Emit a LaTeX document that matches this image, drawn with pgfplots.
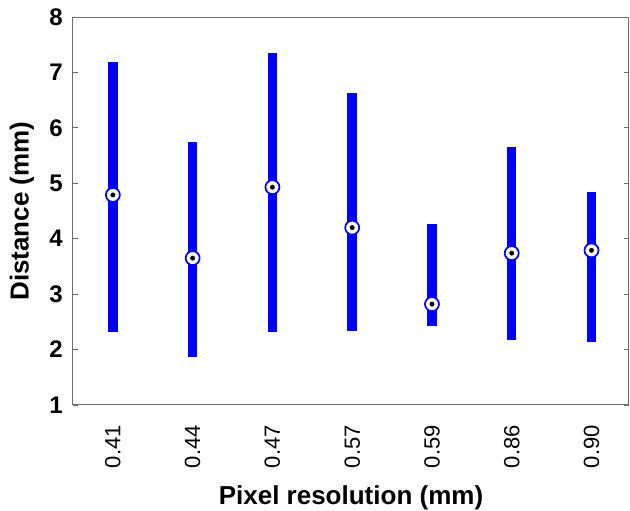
\documentclass[border=0pt]{standalone}
\usepackage{fontspec}
\setmainfont{Liberation Sans}
\usepackage{pgfplots}
\pgfplotsset{compat=1.18}
\definecolor{Bar}{HTML}{0000FF}
\definecolor{Frame}{HTML}{6E6E6E}
\tikzset{
  spanbar/.style={draw=Bar, line width=9.5pt, line cap=butt},
  med/.style={color=Bar, only marks, mark=*, mark size=7pt, mark options={draw=Bar, fill=white, line width=1.7pt}},
  dot/.style={only marks, mark=*, mark size=2.2pt, mark options={draw=black, fill=black}}
}
\begin{document}
\begin{tikzpicture}
\path[use as bounding box] (0,0) rectangle (630pt,511pt);
\begin{axis}[
  at={(73pt,106pt)}, anchor=south west,
  scale only axis,
  width=556pt, height=388pt,
  xmin=0.5, xmax=7.47,
  ymin=1, ymax=8,
  ytick={1,...,8},
  xtick={1,...,7},
  xticklabels={0.41,0.44,0.47,0.57,0.59,0.86,0.90},
  x tick style={draw=none},
  y tick style={draw=Frame, line width=0.8pt},
  major tick length=5pt,
  tick align=inside,
  ytick pos=both,
  axis line style={draw=Frame, line width=1pt},
  /pgf/number format/assume math mode=true,
  yticklabel style={font=\fontsize{24}{26}\selectfont\bfseries, inner sep=0pt, anchor=east, xshift=-10pt},
  xticklabel style={font=\fontsize{22}{24}\selectfont, inner sep=0pt, yshift=-20pt, rotate=90, anchor=east},
  xlabel={Pixel resolution (mm)},
  ylabel={Distance (mm)},
  xlabel style={font=\fontsize{26}{28}\selectfont\bfseries, at={(axis description cs:0.5,-0.2577)}, anchor=base},
  ylabel style={font=\fontsize{26}{28}\selectfont\bfseries, at={(axis description cs:-0.0917,0.5)}, anchor=center},
  clip=false
]
\addplot[spanbar] coordinates {(1,2.32) (1,7.18)};
\addplot[spanbar] coordinates {(2,1.87) (2,5.75)};
\addplot[spanbar] coordinates {(3,2.32) (3,7.35)};
\addplot[spanbar] coordinates {(4,2.33) (4,6.63)};
\addplot[spanbar] coordinates {(5,2.43) (5,4.26)};
\addplot[spanbar] coordinates {(6,2.17) (6,5.65)};
\addplot[spanbar] coordinates {(7,2.13) (7,4.85)};
\addplot[med] coordinates {(1,4.79) (2,3.65) (3,4.93) (4,4.20) (5,2.82) (6,3.74) (7,3.79)};
\addplot[dot] coordinates {(1,4.79) (2,3.65) (3,4.93) (4,4.20) (5,2.82) (6,3.74) (7,3.79)};
\end{axis}
\end{tikzpicture}
\end{document}
